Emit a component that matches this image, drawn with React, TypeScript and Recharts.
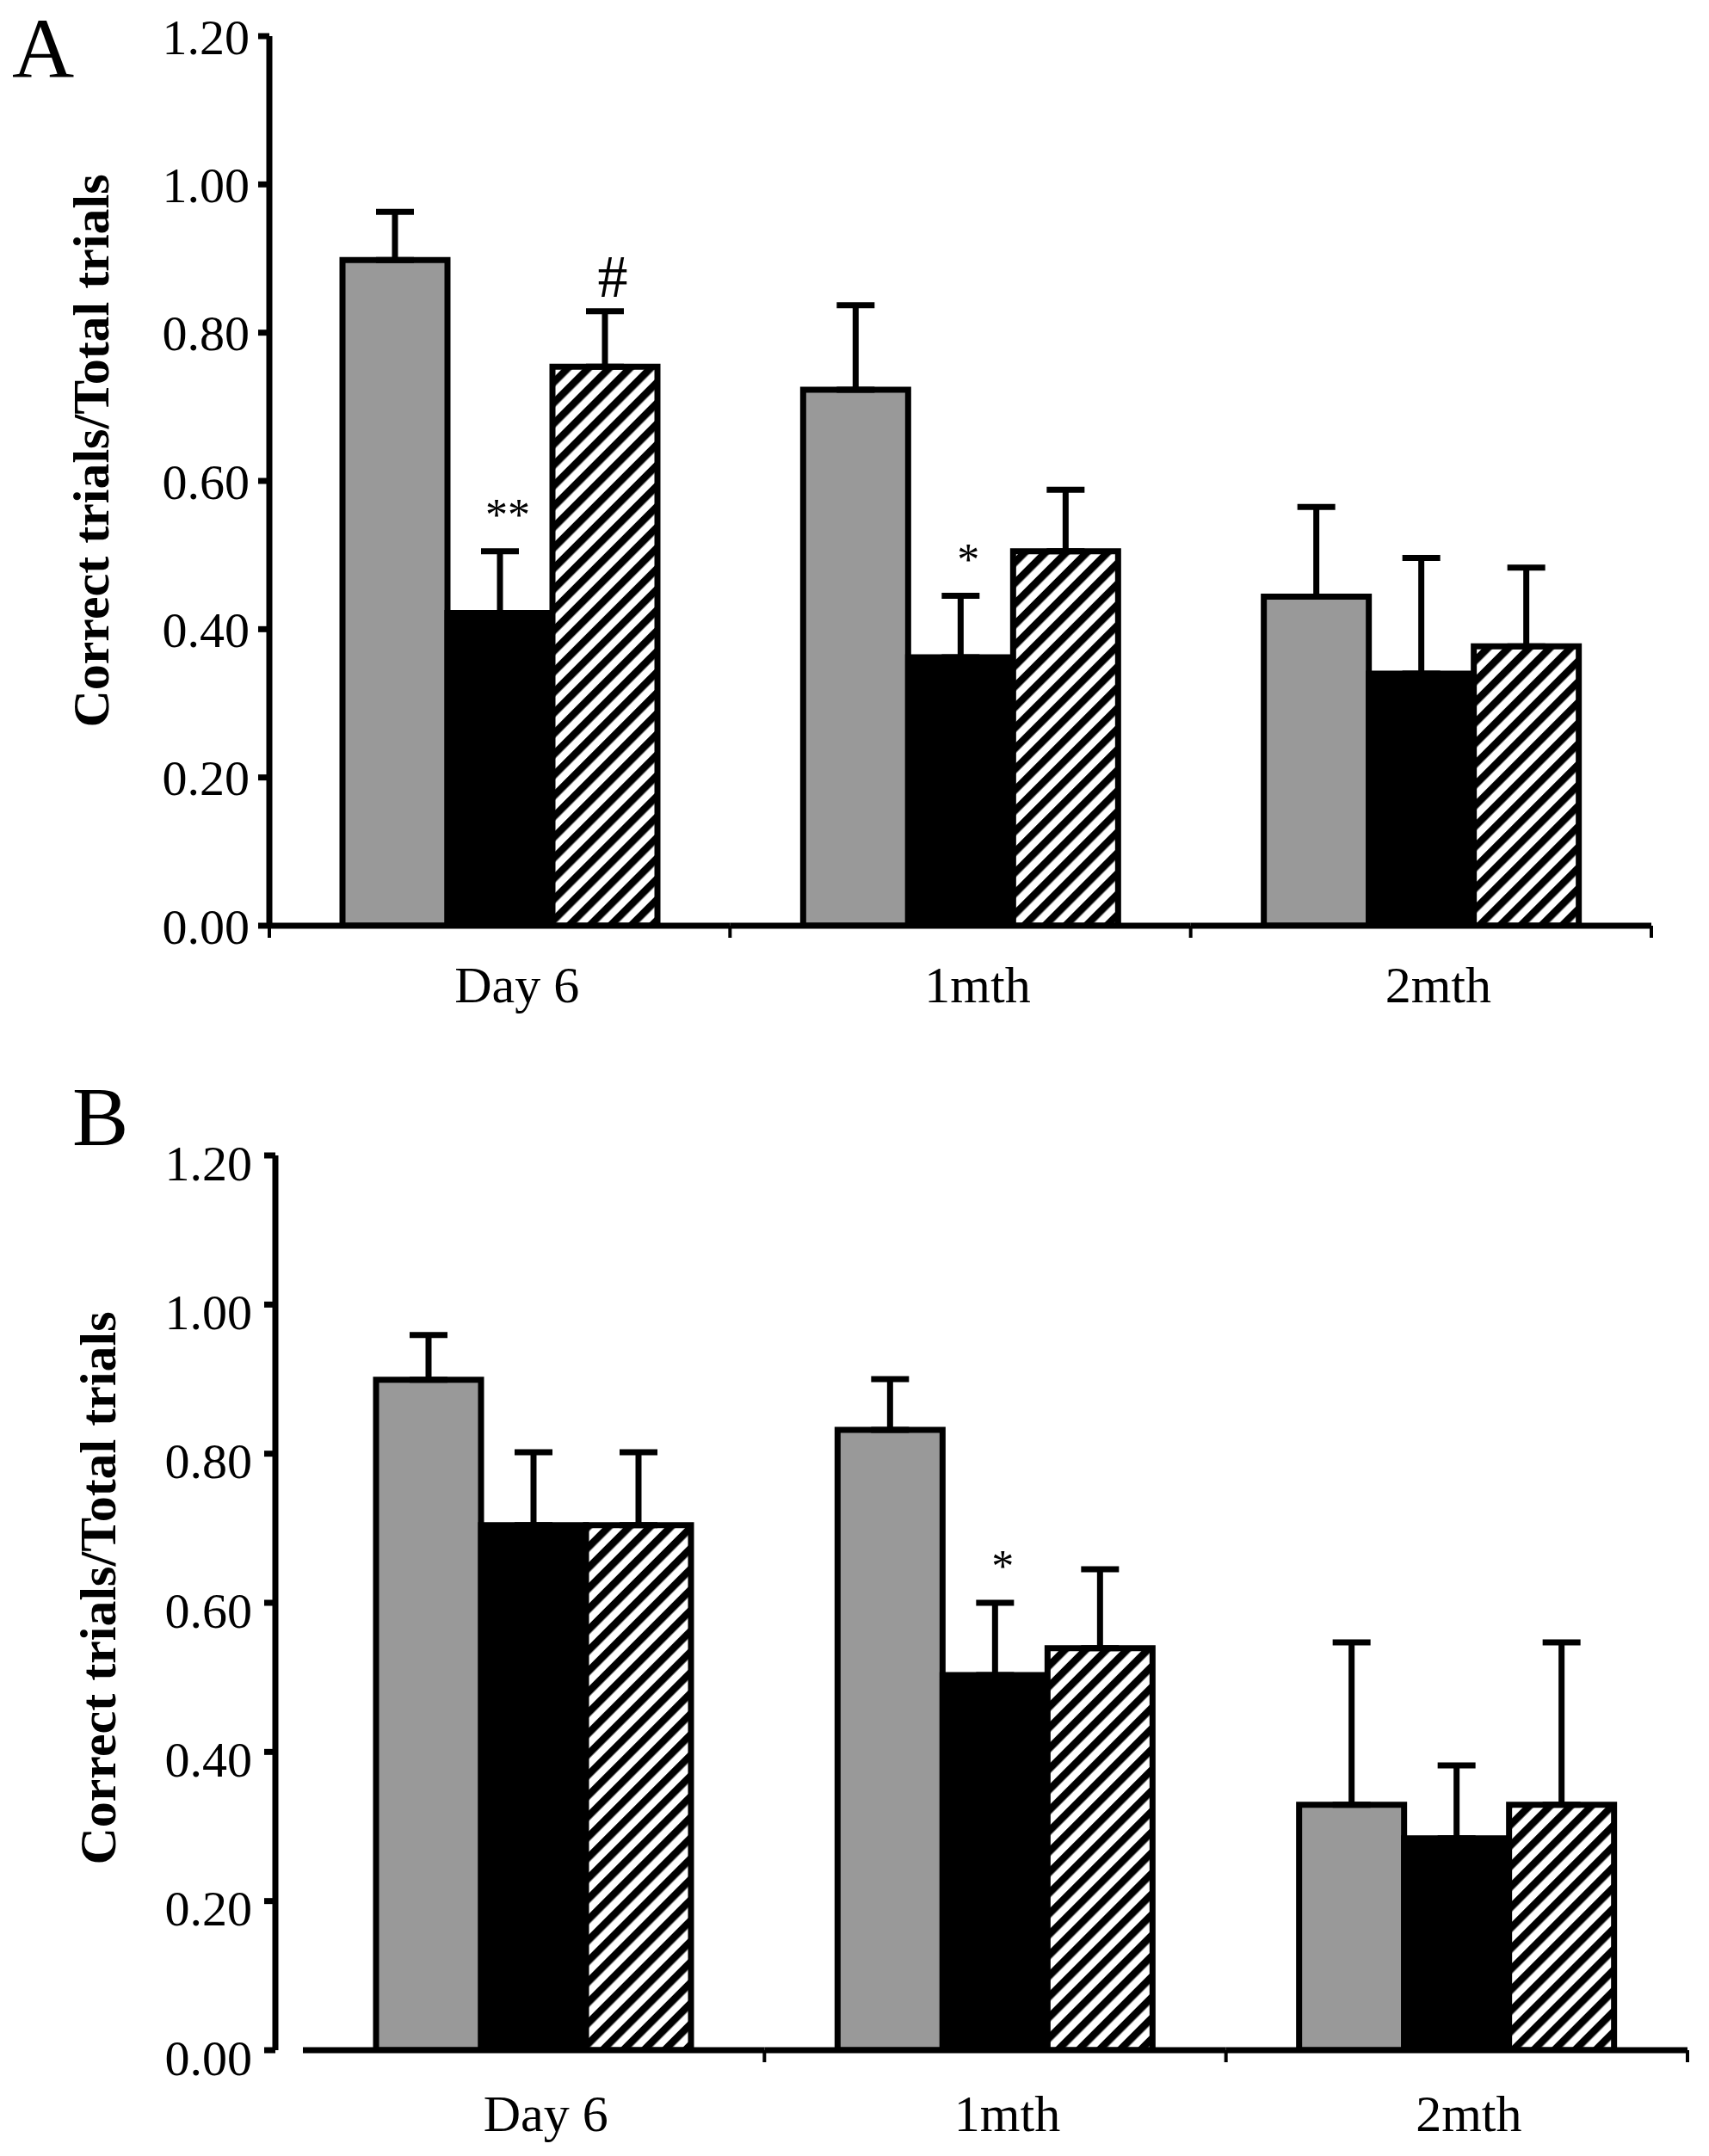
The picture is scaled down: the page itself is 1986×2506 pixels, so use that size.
import React from "react";
import { BarChart, Bar, XAxis, YAxis, ErrorBar, LabelList } from "recharts";

const categories = ["Day 6", "1mth", "2mth"];
const yTicks = [0, 0.2, 0.4, 0.6, 0.8, 1.0, 1.2];
const yTitle = "Correct trials/Total trials";

// panel A
const grayA = [0.898, 0.723, 0.444];
const grayErrA = [0.065, 0.114, 0.121];
const blackA = [0.422, 0.362, 0.34];
const blackErrA = [0.083, 0.083, 0.156];
const hatchA = [0.754, 0.505, 0.377];
const hatchErrA = [0.075, 0.083, 0.106];
const blackMarksA = ["**", "*", ""];
const hatchMarksA = ["#", "", ""];

// panel B
const grayB = [0.899, 0.832, 0.329];
const grayErrB = [0.06, 0.068, 0.218];
const blackB = [0.704, 0.503, 0.284];
const blackErrB = [0.098, 0.097, 0.098];
const hatchB = [0.704, 0.539, 0.329];
const hatchErrB = [0.098, 0.106, 0.218];
const blackMarksB = ["", "*", ""];
const hatchMarksB = ["", "", ""];

const serif = '"Liberation Serif", "Times New Roman", serif';

const buildRows = (
  gray: number[],
  grayErr: number[],
  black: number[],
  blackErr: number[],
  hatch: number[],
  hatchErr: number[],
  blackMarks: string[],
  hatchMarks: string[]
) =>
  categories.map((name, i) => ({
    name,
    gray: gray[i],
    grayErr: [0, grayErr[i]],
    black: black[i],
    blackErr: [0, blackErr[i]],
    hatch: hatch[i],
    hatchErr: [0, hatchErr[i]],
    blackMark: blackMarks[i],
    hatchMark: hatchMarks[i],
  }));

const rowsA = buildRows(grayA, grayErrA, blackA, blackErrA, hatchA, hatchErrA, blackMarksA, hatchMarksA);
const rowsB = buildRows(grayB, grayErrB, blackB, blackErrB, hatchB, hatchErrB, blackMarksB, hatchMarksB);

// significance mark sitting just above the error bar cap
const markContent =
  (values: number[], errs: number[]) => (props: any) => {
    const { index, value } = props;
    if (!value) return null;
    const vb = props.viewBox || props;
    const top = Math.min(vb.y, vb.y + vb.height);
    const h = Math.abs(vb.height);
    const capY = top - (errs[index] * h) / values[index];
    const isHash = value === "#";
    return (
      <text
        x={vb.x + vb.width / 2 + 9}
        y={capY - (isHash ? 17 : 25)}
        textAnchor="middle"
        fontFamily={serif}
        fontSize={isHash ? 70 : 52}
        fill="#000"
      >
        {value}
      </text>
    );
  };

// category label plus the axis line and boundary ticks of its band
const makeXTick =
  (padLeft: number, baseline: number, labelDx: number, firstTick: boolean) => (props: any) => {
    const { x, y, payload, index, width } = props;
    const half =
      payload && typeof payload.offset === "number" && payload.offset > 0
        ? payload.offset
        : (width - padLeft) / (2 * categories.length);
    const left = x - half;
    const right = x + half;
    const last = index === categories.length - 1;
    return (
      <g>
        <line x1={left} x2={right} y1={y} y2={y} stroke="#000" strokeWidth={7} />
        {(index > 0 || firstTick) && (
          <line x1={left} x2={left} y1={y} y2={y + 14} stroke="#000" strokeWidth={4} />
        )}
        {last && <line x1={right} x2={right} y1={y} y2={y + 14} stroke="#000" strokeWidth={4} />}
        <text
          x={x + labelDx}
          y={y + baseline}
          textAnchor="middle"
          fontFamily={serif}
          fontSize={60}
          fill="#000"
        >
          {payload.value}
        </text>
      </g>
    );
  };

type PanelProps = {
  rows: any[];
  top: number;
  height: number;
  plotTop: number;
  plotBottom: number;
  plotLeft: number;
  plotRight: number;
  padLeft: number;
  tickGap: number;
  tickDy: number;
  labelBaseline: number;
  labelDx: number;
  firstTick: boolean;
  values: { black: number[]; blackErr: number[]; hatch: number[]; hatchErr: number[] };
};

const X_AXIS_HEIGHT = 100;

const Panel = ({
  rows,
  top,
  height,
  plotTop,
  plotBottom,
  plotLeft,
  plotRight,
  padLeft,
  tickGap,
  tickDy,
  labelBaseline,
  labelDx,
  firstTick,
  values,
}: PanelProps) => (
  <div style={{ position: "absolute", left: 0, top }}>
    <BarChart
      width={1986}
      height={height}
      data={rows}
      barGap={0}
      margin={{
        top: plotTop,
        right: 1986 - plotRight,
        left: 0,
        bottom: height - plotBottom - X_AXIS_HEIGHT,
      }}
    >
      <YAxis
        domain={[0, 1.2]}
        ticks={yTicks}
        interval={0}
        allowDataOverflow
        width={plotLeft}
        tickFormatter={(v: number) => v.toFixed(2)}
        tick={{ fontFamily: serif, fontSize: 58, fill: "#000", dy: tickDy }}
        tickSize={13}
        tickMargin={tickGap}
        axisLine={{ stroke: "#000", strokeWidth: 7 }}
        tickLine={{ stroke: "#000", strokeWidth: 7 }}
      />
      <XAxis
        dataKey="name"
        interval={0}
        height={X_AXIS_HEIGHT}
        padding={{ left: padLeft, right: 0 }}
        axisLine={false}
        tickLine={false}
        tickSize={0}
        tickMargin={0}
        tick={makeXTick(padLeft, labelBaseline, labelDx, firstTick)}
      />
      <Bar dataKey="gray" fill="#999999" stroke="#000" strokeWidth={7} barSize={122} isAnimationActive={false}>
        <ErrorBar dataKey="grayErr" direction="y" width={22} strokeWidth={7} stroke="#000" isAnimationActive={false} />
      </Bar>
      <Bar dataKey="black" fill="#000" stroke="#000" strokeWidth={7} barSize={122} isAnimationActive={false}>
        <ErrorBar dataKey="blackErr" direction="y" width={22} strokeWidth={7} stroke="#000" isAnimationActive={false} />
        <LabelList dataKey="blackMark" content={markContent(values.black, values.blackErr)} />
      </Bar>
      <Bar dataKey="hatch" fill="url(#hatch)" stroke="#000" strokeWidth={7} barSize={122} isAnimationActive={false}>
        <ErrorBar dataKey="hatchErr" direction="y" width={22} strokeWidth={7} stroke="#000" isAnimationActive={false} />
        <LabelList dataKey="hatchMark" content={markContent(values.hatch, values.hatchErr)} />
      </Bar>
    </BarChart>
  </div>
);

export default function App() {
  return (
    <div
      style={{
        position: "absolute",
        left: 0,
        top: 0,
        width: 1986,
        height: 2506,
        background: "#fff",
        overflow: "hidden",
      }}
    >
      <Panel
        rows={rowsA}
        top={0}
        height={1250}
        plotTop={42}
        plotBottom={1076}
        plotLeft={313}
        plotRight={1919}
        padLeft={0}
        tickGap={10}
        tickDy={0}
        labelBaseline={89}
        labelDx={20}
        firstTick={true}
        values={{ black: blackA, blackErr: blackErrA, hatch: hatchA, hatchErr: hatchErrA }}
      />
      <Panel
        rows={rowsB}
        top={1250}
        height={1256}
        plotTop={93}
        plotBottom={1133}
        plotLeft={320}
        plotRight={1961}
        padLeft={32}
        tickGap={14}
        tickDy={8}
        labelBaseline={94}
        labelDx={14}
        firstTick={false}
        values={{ black: blackB, blackErr: blackErrB, hatch: hatchB, hatchErr: hatchErrB }}
      />
      <svg
        width={1986}
        height={2506}
        style={{ position: "absolute", left: 0, top: 0, pointerEvents: "none" }}
      >
        <defs>
          <pattern
            id="hatch"
            patternUnits="userSpaceOnUse"
            width={17}
            height={17}
            patternTransform="rotate(45)"
          >
            <rect width={17} height={17} fill="#fff" />
            <rect width={8.5} height={17} fill="#000" />
          </pattern>
        </defs>
        <text x={14} y={90} fontFamily={serif} fontSize={100} fill="#000">
          A
        </text>
        <text x={84} y={1331} fontFamily={serif} fontSize={98} fill="#000">
          B
        </text>
        <text
          transform="translate(126,524) rotate(-90)"
          textAnchor="middle"
          fontFamily={serif}
          fontWeight="bold"
          fontSize={60}
          fill="#000"
        >
          {yTitle}
        </text>
        <text
          transform="translate(134,1846) rotate(-90)"
          textAnchor="middle"
          fontFamily={serif}
          fontWeight="bold"
          fontSize={60}
          fill="#000"
        >
          {yTitle}
        </text>
      </svg>
    </div>
  );
}
